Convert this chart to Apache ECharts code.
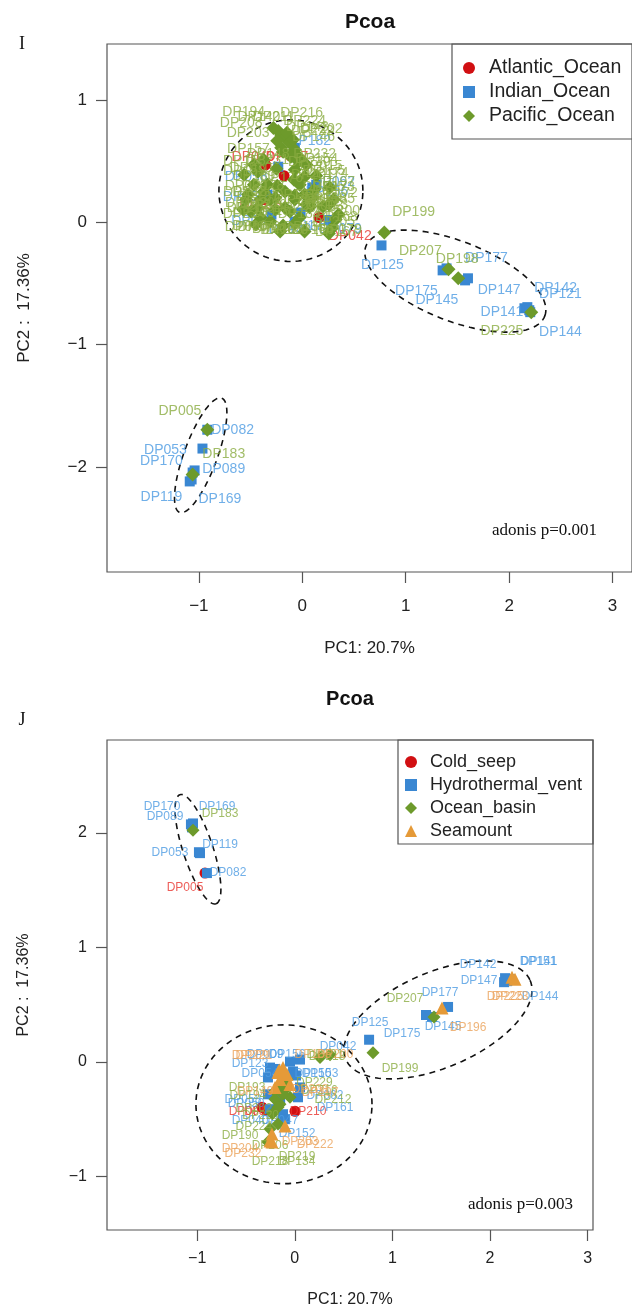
<!DOCTYPE html>
<html><head><meta charset="utf-8">
<script src="https://cdn.jsdelivr.net/npm/echarts@6/dist/echarts.min.js"></script>
<style>html,body{margin:0;padding:0;background:#fff}#c{width:632px;height:1311px}</style>
</head><body><div id="c"></div>
<script>
// ---------- tick labels / categories ----------
const xTicks = [-1, 0, 1, 2, 3];
const yTicksI = [-2, -1, 0, 1];
const yTicksJ = [-1, 0, 1, 2];
const groupsI = ['Atlantic_Ocean', 'Indian_Ocean', 'Pacific_Ocean'];
const groupsJ = ['Cold_seep', 'Hydrothermal_vent', 'Ocean_basin', 'Seamount'];

// ---------- panel I : [sample, PC1, PC2, labelPC1, labelPC2] ----------
const I_Atlantic = [
  ['DP047', -0.176, 0.382, -0.148, 0.537],
  ['DP042', 0.163, 0.040, 0.464, -0.115],
  ['DP040', -0.355, 0.472, -0.477, 0.537],
  ['DP036', -0.373, 0.187, -0.402, 0.130]
];
const I_Indian = [
  ['DP125', 0.766, -0.188, 0.775, -0.351],
  ['DP175', 1.357, -0.392, 1.104, -0.563],
  ['DP177', 1.395, -0.376, 1.781, -0.294],
  ['DP145', 1.574, -0.474, 1.301, -0.637],
  ['DP147', 1.602, -0.457, 1.903, -0.555],
  ['DP141', 2.148, -0.702, 1.931, -0.734],
  ['DP142', 2.176, -0.693, 2.449, -0.539],
  ['DP121', 2.195, -0.718, 2.496, -0.587],
  ['DP144', 2.204, -0.734, 2.496, -0.897],
  ['DP082', -0.918, -1.696, -0.674, -1.696],
  ['DP053', -0.965, -1.850, -1.323, -1.866],
  ['DP089', -1.041, -2.029, -0.759, -2.022],
  ['DP170', -1.060, -2.046, -1.361, -1.957],
  ['DP119', -1.088, -2.119, -1.361, -2.249],
  ['DP169', -1.070, -2.103, -0.797, -2.265],
  ['DP182', -0.072, 0.610, 0.072, 0.668],
  ['DP058', -0.232, 0.456, -0.543, 0.374],
  ['DP156', 0.097, 0.285, 0.238, 0.252],
  ['DP050', -0.336, 0.227, -0.561, 0.211],
  ['DP009', -0.298, 0.064, -0.480, 0.010],
  ['DP130', -0.072, 0.007, -0.119, -0.058],
  ['DP171', -0.016, 0.081, 0.069, -0.033],
  ['DP079', 0.262, 0.020, 0.369, -0.058],
  ['DP062', 0.135, 0.309, 0.304, 0.333]
];
const I_Pacific = [
  ['DP199', 0.793, -0.082, 1.076, 0.081],
  ['DP207', 1.414, -0.383, 1.141, -0.237],
  ['DP198', 1.508, -0.457, 1.498, -0.302],
  ['DP225', 2.214, -0.734, 1.931, -0.889],
  ['DP005', -0.918, -1.696, -1.183, -1.540],
  ['DP183', -1.060, -2.062, -0.759, -1.899],
  ['DP194', -0.232, 0.749, -0.566, 0.904],
  ['DP211', -0.204, 0.716, -0.279, 0.863],
  ['DP216', -0.167, 0.692, -0.007, 0.896],
  ['DP224', -0.120, 0.651, 0.022, 0.831],
  ['DP208', -0.242, 0.668, -0.590, 0.814],
  ['DP203', -0.204, 0.611, -0.524, 0.733],
  ['DP222', -0.072, 0.594, 0.097, 0.749],
  ['DP202', -0.110, 0.537, 0.182, 0.766],
  ['DP015', 0.022, 0.374, 0.182, 0.464],
  ['DP201', -0.025, 0.309, 0.097, 0.391],
  ['DP003', 0.069, 0.146, 0.191, 0.130],
  ['DP013', 0.070, 0.125, 0.238, 0.138],
  ['DP010', -0.430, 0.415, -0.496, 0.448],
  ['DP030', -0.468, 0.309, -0.543, 0.301],
  ['DP060', -0.496, 0.089, -0.543, -0.042],
  ['DP070', -0.402, 0.040, -0.420, -0.042],
  ['DP100', -0.308, 0.007, -0.279, -0.058],
  ['DP120', -0.185, -0.025, -0.148, -0.066],
  ['DP135', -0.072, -0.009, 0.022, -0.042],
  ['DP179', 0.285, -0.050, 0.370, -0.066],
  ['DP185', 0.200, 0.130, 0.304, 0.187],
  ['DP187', -0.260, 0.203, -0.430, 0.203],
  ['DP189', -0.336, 0.309, -0.468, 0.382],
  ['DP191', -0.167, 0.252, -0.072, 0.220],
  ['DP192', -0.072, 0.187, 0.135, 0.220],
  ['DP195', 0.022, 0.228, 0.210, 0.285],
  ['DP197', 0.116, 0.268, 0.304, 0.333],
  ['DP200', 0.257, 0.146, 0.351, 0.089],
  ['DP205', 0.351, 0.064, 0.304, 0.000],
  ['DP213', -0.402, 0.187, -0.524, 0.121],
  ['DP220', -0.260, 0.105, -0.355, 0.138],
  ['DP229', -0.120, 0.089, -0.072, 0.121],
  ['DP230', -0.072, 0.431, 0.069, 0.497],
  ['DP231', -0.250, 0.440, -0.336, 0.513],
  ['DP232', -0.035, 0.496, 0.120, 0.560],
  ['DP234', -0.543, 0.187, -0.562, 0.070],
  ['DP140', -0.279, 0.773, -0.420, 0.860],
  ['DP143', -0.148, 0.733, 0.050, 0.780],
  ['DP146', -0.091, 0.676, 0.110, 0.700],
  ['DP148', -0.185, 0.578, -0.330, 0.560],
  ['DP154', -0.025, 0.529, 0.140, 0.520],
  ['DP155', 0.040, 0.472, 0.210, 0.420],
  ['DP157', -0.373, 0.513, -0.520, 0.600],
  ['DP158', -0.468, 0.472, -0.560, 0.500],
  ['DP159', -0.562, 0.391, -0.560, 0.420],
  ['DP162', -0.524, 0.228, -0.560, 0.250],
  ['DP163', -0.571, 0.105, -0.540, 0.160],
  ['DP164', -0.449, -0.017, -0.470, -0.030],
  ['DP165', -0.214, -0.074, -0.200, -0.066],
  ['DP166', 0.022, -0.074, 0.100, -0.066],
  ['DP167', 0.257, -0.090, 0.330, -0.080],
  ['DP168', 0.323, 0.024, 0.330, 0.040],
  ['DP172', 0.304, 0.187, 0.330, 0.240],
  ['DP173', 0.266, 0.285, 0.300, 0.290],
  ['DP174', 0.135, 0.382, 0.240, 0.400],
  ['DP176', -0.080, 0.350, -0.200, 0.360],
  ['DP178', -0.242, 0.301, -0.380, 0.300],
  ['DP180', -0.373, 0.252, -0.470, 0.250],
  ['DP181', -0.167, 0.121, -0.250, 0.090],
  ['DP184', -0.025, 0.040, -0.030, 0.070],
  ['DP188', 0.097, 0.203, 0.220, 0.200],
  ['DP206', -0.308, 0.187, -0.400, 0.160],
  ['DP209', -0.430, 0.121, -0.470, 0.080],
  ['DP210', -0.072, 0.220, -0.040, 0.180],
  ['DP212', 0.040, 0.146, 0.160, 0.170]
];

// ---------- panel J ----------
const J_ColdSeep = [
  ['DP005', -0.920, 1.649, -1.125, 1.520],
  ['DP003', -0.336, -0.394, -0.490, -0.429],
  ['DP210', 0.002, -0.429, 0.135, -0.437],
  ['DP036', -0.295, -0.420, -0.330, -0.429]
];
const J_Hydro = [
  ['DP170', -1.064, 2.074, -1.360, 2.229],
  ['DP089', -1.053, 2.048, -1.330, 2.143],
  ['DP169', -1.043, 2.082, -0.797, 2.229],
  ['DP119', -0.971, 1.823, -0.766, 1.900],
  ['DP053', -0.982, 1.831, -1.279, 1.823],
  ['DP082', -0.900, 1.649, -0.684, 1.649],
  ['DP142', 2.154, 0.732, 1.877, 0.853],
  ['DP151', 2.185, 0.714, 2.492, 0.879],
  ['DP141', 2.174, 0.706, 2.503, 0.879],
  ['DP147', 2.144, 0.697, 1.887, 0.706],
  ['DP144', 2.205, 0.723, 2.513, 0.567],
  ['DP177', 1.570, 0.481, 1.488, 0.602],
  ['DP145', 1.406, 0.394, 1.518, 0.307],
  ['DP175', 1.344, 0.411, 1.098, 0.247],
  ['DP125', 0.761, 0.195, 0.771, 0.342],
  ['DP042', 0.053, 0.022, 0.443, 0.134],
  ['DP123', -0.254, -0.048, -0.459, -0.013],
  ['DP150', -0.018, -0.082, 0.186, -0.100],
  ['DP153', 0.012, -0.117, 0.258, -0.100],
  ['DP054', -0.275, -0.134, -0.357, -0.100],
  ['DP156', -0.049, 0.004, -0.080, 0.065],
  ['DP161', 0.033, -0.307, 0.412, -0.394],
  ['DP040', -0.254, -0.411, -0.459, -0.515],
  ['DP047', -0.121, -0.455, -0.152, -0.515],
  ['DP152', -0.100, -0.498, 0.023, -0.628],
  ['DP058', -0.275, -0.281, -0.531, -0.325],
  ['DP062', 0.053, -0.221, 0.309, -0.290],
  ['DP009', -0.200, -0.060, -0.305, 0.065],
  ['DP050', -0.150, -0.330, -0.500, -0.360]
];
const J_Basin = [
  ['DP183', -1.043, 2.022, -0.766, 2.165],
  ['DP207', 1.426, 0.394, 1.129, 0.550],
  ['DP199', 0.801, 0.082, 1.078, -0.056],
  ['DP193', -0.203, -0.255, -0.490, -0.221],
  ['DP190', -0.254, -0.584, -0.561, -0.645],
  ['DP218', -0.275, -0.697, -0.254, -0.870],
  ['DP219', -0.172, -0.541, 0.023, -0.827],
  ['DP134', -0.152, -0.368, 0.023, -0.870],
  ['DP206', -0.100, -0.238, -0.254, -0.732],
  ['DP212', -0.049, -0.307, 0.391, -0.325],
  ['DP194', -0.152, -0.195, -0.480, -0.290],
  ['DP201', 0.258, 0.039, 0.309, 0.065],
  ['DP213', 0.361, 0.065, 0.330, 0.050],
  ['DP202', -0.203, -0.325, -0.420, -0.410],
  ['DP220', -0.172, -0.394, -0.350, -0.470],
  ['DP216', -0.120, -0.280, 0.250, -0.250],
  ['DP224', -0.230, -0.450, -0.420, -0.560],
  ['DP229', -0.080, -0.150, 0.200, -0.180]
];
const J_Seamount = [
  ['DP209', -0.172, -0.091, -0.459, 0.056],
  ['DP221', -0.160, -0.070, -0.420, 0.056],
  ['DP186', -0.121, -0.048, 0.186, 0.065],
  ['DP200', -0.080, -0.108, 0.412, 0.065],
  ['DP149', -0.152, -0.152, -0.408, -0.255],
  ['DP208', -0.049, -0.195, 0.156, -0.238],
  ['DP197', -0.203, -0.221, 0.258, -0.264],
  ['DP203', -0.100, -0.558, 0.053, -0.697],
  ['DP222', -0.234, -0.628, 0.207, -0.723],
  ['DP232', -0.254, -0.688, -0.531, -0.801],
  ['DP204', -0.234, -0.697, -0.561, -0.758],
  ['DP196', 1.508, 0.472, 1.775, 0.299],
  ['DP225', 2.225, 0.740, 2.154, 0.567],
  ['DP223', 2.256, 0.723, 2.205, 0.567]
];

// ---------- dashed group ellipses: [centerX, centerY, axis1X, axis1Y, axis2X, axis2Y] ----------
const ellipsesI = [
  [-0.110, 0.260, 0.696, 0.0, 0.0, 0.579],
  [1.480, -0.480, 0.865, -0.285, 0.134, 0.305],
  [-0.982, -1.905, 0.204, 0.467, 0.150, -0.049]
];
const ellipsesJ = [
  [-0.992, 1.857, 0.184, -0.476, 0.146, 0.040],
  [1.467, 0.368, 0.943, 0.346, 0.196, -0.381],
  [-0.111, -0.368, 0.902, 0.0, 0.0, 0.693]
];

const statI = 'adonis p=0.001';
const statJ = 'adonis p=0.003';

// ---------- build ----------
const SANS = '"Liberation Sans", Arial, sans-serif';
const SERIF = '"Liberation Serif", "Times New Roman", serif';
const chart = echarts.init(document.getElementById('c'), null, {renderer: 'canvas'});

const styleOf = {
  Atlantic_Ocean: {sym: 'circle', size: 11, color: '#D10F12', lab: '#E8342E'},
  Indian_Ocean: {sym: 'rect', size: 10, color: '#3A87D2', lab: '#4C9BE2'},
  Pacific_Ocean: {sym: 'diamond', size: 14, color: '#6D9A2B', lab: '#8BAD42'},
  Cold_seep: {sym: 'circle', size: 11, color: '#D10F12', lab: '#E8342E'},
  Hydrothermal_vent: {sym: 'rect', size: 10, color: '#3A87D2', lab: '#4C9BE2'},
  Ocean_basin: {sym: 'diamond', size: 13, color: '#6D9A2B', lab: '#8BAD42'},
  Seamount: {sym: 'triangle', size: 13, color: '#E59A38', lab: '#EBA25A'}
};

const series = [];
function addGroup(name, rows, gi, order, fontSize) {
  const st = styleOf[name];
  series.push({
    type: 'scatter', name: name, xAxisIndex: gi, yAxisIndex: gi,
    data: rows.map(r => [r[1], r[2], r[0]]),
    symbol: st.sym, symbolSize: st.size,
    itemStyle: {color: st.color, opacity: 1},
    z: 10 + order * 2, silent: true, animation: false
  });
  series.push({
    type: 'scatter', name: name + ' labels', xAxisIndex: gi, yAxisIndex: gi,
    data: rows.map(r => [r[3], r[4], r[0]]),
    symbol: 'circle', symbolSize: 1,
    itemStyle: {color: 'rgba(0,0,0,0)'},
    label: {show: true, position: 'inside', formatter: p => p.data[2],
      color: st.lab, fontSize: fontSize, fontFamily: SANS},
    z: 11 + order * 2, silent: true, animation: false
  });
}
function addEllipses(data, gi) {
  series.push({
    type: 'custom', xAxisIndex: gi, yAxisIndex: gi, silent: true, animation: false, clip: false,
    dimensions: ['cx', 'cy', 'ux', 'uy', 'vx', 'vy'], encode: {x: 0, y: 1},
    data: data, z: 5,
    renderItem: function (params, api) {
      const cx = api.value(0), cy = api.value(1), ux = api.value(2), uy = api.value(3), vx = api.value(4), vy = api.value(5);
      const pts = [];
      for (let k = 0; k <= 120; k++) {
        const t = k / 120 * Math.PI * 2;
        pts.push(api.coord([cx + ux * Math.cos(t) + vx * Math.sin(t), cy + uy * Math.cos(t) + vy * Math.sin(t)]));
      }
      return {type: 'polyline', shape: {points: pts},
        style: {stroke: '#111', lineWidth: 1.6, lineDash: [6, 5], fill: null}};
    }
  });
}
addEllipses(ellipsesI, 0);
addEllipses(ellipsesJ, 1);
addGroup('Atlantic_Ocean', I_Atlantic, 0, 0, 14);
addGroup('Indian_Ocean', I_Indian, 0, 1, 14);
addGroup('Pacific_Ocean', I_Pacific, 0, 2, 14);
addGroup('Cold_seep', J_ColdSeep, 1, 0, 12);
addGroup('Hydrothermal_vent', J_Hydro, 1, 1, 12);
addGroup('Ocean_basin', J_Basin, 1, 2, 12);
addGroup('Seamount', J_Seamount, 1, 3, 12);

const fmt = v => (v < 0 ? '\u2212' + Math.abs(v) : String(v));
function xAxis(gi, min, max, fs, margin, gap) {
  return {type: 'value', gridIndex: gi, min: min, max: max, position: 'bottom',
    splitLine: {show: false}, axisLine: {show: false, onZero: false},
    axisTick: {show: true, inside: false, length: 11, customValues: xTicks, lineStyle: {color: '#555', width: 1.2}},
    axisLabel: {customValues: xTicks, margin: margin, fontSize: fs, fontFamily: SANS, color: '#222', formatter: fmt},
    name: 'PC1: 20.7%', nameLocation: 'middle', nameGap: gap,
    nameTextStyle: {fontSize: fs, fontFamily: SANS, color: '#222'}};
}
function yAxis(gi, min, max, ticks, fs, gap) {
  return {type: 'value', gridIndex: gi, min: min, max: max, position: 'left',
    splitLine: {show: false}, axisLine: {show: false, onZero: false},
    axisTick: {show: true, inside: false, length: 11, customValues: ticks, lineStyle: {color: '#555', width: 1.2}},
    axisLabel: {customValues: ticks, margin: 20, fontSize: fs, fontFamily: SANS, color: '#222', formatter: fmt},
    name: 'PC2 :  17.36%', nameLocation: 'middle', nameGap: gap, nameRotate: 90,
    nameTextStyle: {fontSize: fs, fontFamily: SANS, color: '#222'}};
}

const option = {
  backgroundColor: '#fff',
  animation: false,
  grid: [
    {left: 107, top: 44, width: 540, height: 528, show: true, borderColor: '#555', borderWidth: 1.2, backgroundColor: 'transparent'},
    {left: 107, top: 740, width: 486, height: 490, show: true, borderColor: '#555', borderWidth: 1.2, backgroundColor: 'transparent'}
  ],
  xAxis: [xAxis(0, -1.888, 3.188, 17, 26, 68), xAxis(1, -1.924, 3.055, 16, 21, 62)],
  yAxis: [yAxis(0, -2.86, 1.46, yTicksI, 17, 74), yAxis(1, -1.465, 2.81, yTicksJ, 16, 75)],
  legend: [
    {orient: 'vertical', left: 463, top: 58, padding: 0, itemWidth: 12, itemHeight: 12, itemGap: 4,
      selectedMode: false,
      textStyle: {fontSize: 19.5, lineHeight: 20, fontFamily: SANS, color: '#222', padding: [0, 0, 0, 9]},
      data: [{name: groupsI[0], icon: 'circle'}, {name: groupsI[1], icon: 'rect'}, {name: groupsI[2], icon: 'diamond'}]},
    {orient: 'vertical', left: 405, top: 753, padding: 0, itemWidth: 12, itemHeight: 12, itemGap: 5,
      selectedMode: false,
      textStyle: {fontSize: 18, lineHeight: 18, fontFamily: SANS, color: '#222', padding: [0, 0, 0, 8]},
      data: [{name: groupsJ[0], icon: 'circle'}, {name: groupsJ[1], icon: 'rect'}, {name: groupsJ[2], icon: 'diamond'}, {name: groupsJ[3], icon: 'triangle'}]}
  ],
  graphic: [
    {type: 'rect', shape: {x: 452, y: 44, width: 220, height: 95}, style: {fill: null, stroke: '#555', lineWidth: 1.2}, z: 50, silent: true},
    {type: 'rect', shape: {x: 398, y: 740, width: 195, height: 104}, style: {fill: null, stroke: '#555', lineWidth: 1.2}, z: 50, silent: true},
    {type: 'text', x: 370, y: 22, style: {text: 'Pcoa', fontSize: 21, fontWeight: 'bold', fontFamily: SANS, fill: '#111', textAlign: 'center', textVerticalAlign: 'middle'}},
    {type: 'text', x: 350, y: 699, style: {text: 'Pcoa', fontSize: 20, fontWeight: 'bold', fontFamily: SANS, fill: '#111', textAlign: 'center', textVerticalAlign: 'middle'}},
    {type: 'text', x: 22, y: 44, style: {text: 'I', fontSize: 18, fontFamily: SERIF, fill: '#111', textAlign: 'center', textVerticalAlign: 'middle'}},
    {type: 'text', x: 22, y: 720, style: {text: 'J', fontSize: 18, fontFamily: SERIF, fill: '#111', textAlign: 'center', textVerticalAlign: 'middle'}},
    {type: 'text', x: 597, y: 531, style: {text: statI, fontSize: 17, fontFamily: SERIF, fill: '#111', textAlign: 'right', textVerticalAlign: 'middle'}},
    {type: 'text', x: 573, y: 1205, style: {text: statJ, fontSize: 17, fontFamily: SERIF, fill: '#111', textAlign: 'right', textVerticalAlign: 'middle'}}
  ],
  series: series
};
chart.setOption(option);
</script>
</body></html>
